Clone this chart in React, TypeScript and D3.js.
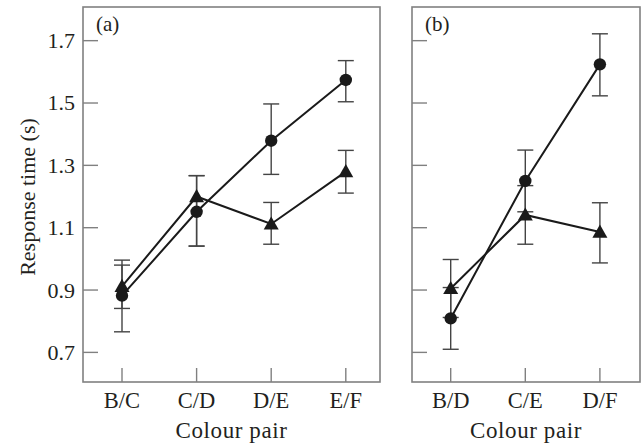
import React from "react";
import * as d3 from "d3";

const categoriesA = ["B/C", "C/D", "D/E", "E/F"];
const circleA = [0.882, 1.151, 1.379, 1.574];
const circleALo = [0.766, 1.041, 1.271, 1.504];
const circleAHi = [0.996, 1.267, 1.497, 1.636];
const triangleA = [0.912, 1.2, 1.112, 1.28];
const triangleALo = [0.841, 1.041, 1.047, 1.211];
const triangleAHi = [0.98, 1.267, 1.181, 1.348];

const categoriesB = ["B/D", "C/E", "D/F"];
const circleB = [0.809, 1.25, 1.624];
const circleBLo = [0.71, 1.151, 1.523];
const circleBHi = [0.908, 1.349, 1.722];
const triangleB = [0.905, 1.141, 1.086];
const triangleBLo = [0.812, 1.047, 0.987];
const triangleBHi = [0.998, 1.235, 1.18];

const yTicks = [0.7, 0.9, 1.1, 1.3, 1.5, 1.7];
const yTickLabels = ["0.7", "0.9", "1.1", "1.3", "1.5", "1.7"];

const FONT = "'Liberation Serif', 'DejaVu Serif', serif";
const TEXT = "#231f20";
const AXIS = "#808080";
const ERR = "#444";
const LINE = "#1a1a1a";

const top = 7;
const bottom = 382;
const y = d3.scaleLinear().domain([0.605, 1.808]).range([bottom, top]);

type PanelProps = {
  left: number;
  right: number;
  firstX: number;
  cats: string[];
  circ: number[];
  circLo: number[];
  circHi: number[];
  tri: number[];
  triLo: number[];
  triHi: number[];
  label: string;
  showTickLabels: boolean;
};

function Panel(p: PanelProps) {
  const x = d3
    .scaleLinear()
    .domain([0, p.cats.length - 1])
    .range([p.firstX, p.firstX + 74.6 * (p.cats.length - 1)]);
  const idx = p.cats.map((_, i) => i);
  const line = d3
    .line<number>()
    .x((_, i) => x(i))
    .y((v) => y(v));
  const triPath = (cx: number, cy: number) => {
    const s = 7.5;
    return `M${cx},${cy - s}L${cx + s},${cy + s * 0.75}L${cx - s},${cy + s * 0.75}Z`;
  };
  const errBar = (i: number, lo: number, hi: number, key: string) => (
    <g key={key} stroke={ERR} strokeWidth={1.4}>
      <line x1={x(i)} x2={x(i)} y1={y(lo)} y2={y(hi)} />
      <line x1={x(i) - 8} x2={x(i) + 8} y1={y(lo)} y2={y(lo)} />
      <line x1={x(i) - 8} x2={x(i) + 8} y1={y(hi)} y2={y(hi)} />
    </g>
  );
  const cx = (p.left + p.right) / 2;
  return (
    <g>
      {idx.map((i) => errBar(i, p.circLo[i], p.circHi[i], "ce" + i))}
      {idx.map((i) => errBar(i, p.triLo[i], p.triHi[i], "te" + i))}
      <path d={line(p.circ) || ""} fill="none" stroke={LINE} strokeWidth={2} />
      <path d={line(p.tri) || ""} fill="none" stroke={LINE} strokeWidth={2} />
      {idx.map((i) => (
        <circle key={"c" + i} cx={x(i)} cy={y(p.circ[i])} r={6.2} fill={LINE} />
      ))}
      {idx.map((i) => (
        <path key={"t" + i} d={triPath(x(i), y(p.tri[i]))} fill={LINE} />
      ))}
      <rect
        x={p.left}
        y={top}
        width={p.right - p.left}
        height={bottom - top}
        fill="none"
        stroke={AXIS}
        strokeWidth={1.6}
      />
      {yTicks.map((t, i) => (
        <g key={"yt" + i}>
          <line x1={p.left} x2={p.left + 15} y1={y(t)} y2={y(t)} stroke={AXIS} strokeWidth={1.4} />
          {p.showTickLabels && (
            <text
              x={p.left - 8}
              y={y(t)}
              dy="0.34em"
              textAnchor="end"
              fontFamily={FONT}
              fontSize={22}
              fill={TEXT}
            >
              {yTickLabels[i]}
            </text>
          )}
        </g>
      ))}
      {p.cats.map((c, i) => (
        <g key={"xt" + i}>
          <line x1={x(i)} x2={x(i)} y1={bottom} y2={bottom - 14} stroke={AXIS} strokeWidth={1.4} />
          <text
            x={x(i)}
            y={408}
            textAnchor="middle"
            fontFamily={FONT}
            fontSize={22.5}
            fill={TEXT}
          >
            {c}
          </text>
        </g>
      ))}
      <text
        x={cx}
        y={438}
        textAnchor="middle"
        fontFamily={FONT}
        fontSize={23}
        letterSpacing={0.6}
        fill={TEXT}
      >
        Colour pair
      </text>
      <text x={p.left + 13} y={31} fontFamily={FONT} fontSize={21} fill={TEXT}>
        {p.label}
      </text>
    </g>
  );
}

export default function App() {
  return (
    <svg
      width={643}
      height={446}
      style={{ position: "absolute", left: 0, top: 0, background: "#fff" }}
    >
      <rect x={0} y={0} width={643} height={446} fill="#fff" />
      <Panel
        left={83}
        right={380}
        firstX={122}
        cats={categoriesA}
        circ={circleA}
        circLo={circleALo}
        circHi={circleAHi}
        tri={triangleA}
        triLo={triangleALo}
        triHi={triangleAHi}
        label="(a)"
        showTickLabels={true}
      />
      <Panel
        left={412}
        right={640}
        firstX={450.7}
        cats={categoriesB}
        circ={circleB}
        circLo={circleBLo}
        circHi={circleBHi}
        tri={triangleB}
        triLo={triangleBLo}
        triHi={triangleBHi}
        label="(b)"
        showTickLabels={false}
      />
      <text
        transform={`translate(35,197) rotate(-90)`}
        textAnchor="middle"
        fontFamily={FONT}
        fontSize={22}
        fill={TEXT}
      >
        Response time (s)
      </text>
    </svg>
  );
}
